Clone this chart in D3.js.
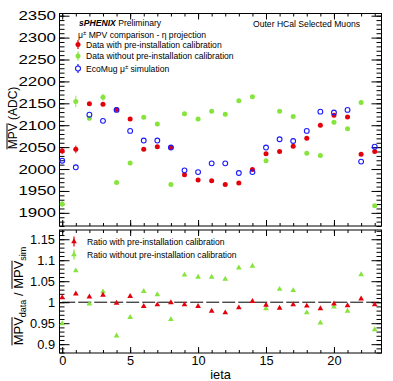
<!DOCTYPE html>
<html>
<head>
<meta charset="utf-8">
<script src="https://cdn.jsdelivr.net/npm/d3@7"></script>
<style>
  body { margin: 0; background: #fff; }
  svg { display: block; }
  text { font-family: "Liberation Sans", Arial, sans-serif; fill: #000; }
</style>
</head>
<body>
<div id="chart"></div>
<script>
// Data
const ieta = [0, 1, 2, 3, 4, 5, 6, 7, 8, 9, 10, 11, 12, 13, 14, 15, 16, 17, 18, 19, 20, 21, 22, 23];
const mpvCalib   = [2041, 2045, 2149, 2148, 2136, 2114, 2045, 2051, 2049, 1987, 1975, 1973, 1965, 1968, 1999, 2035, 2040, 2052, 2070, 2100, 2123, 2119, 2034, 2040];
const errCalib   = [7, 9, 4, 4, 3, 3, 3, 3, 3, 3, 3, 3, 3, 3, 3, 3, 3, 3, 3, 3, 3, 3, 3, 3];
const mpvNoCalib = [1920, 2154, 2116, 2164, 1969, 2014, 2118, 2103, 1965, 2126, 2114, 2132, 2125, 2156, 2165, 2019, 2132, 2120, 2036, 2031, 2107, 2092, 2152, 1916];
const errNoCalib = [7, 13, 5, 8, 4, 4, 4, 4, 4, 4, 4, 4, 4, 4, 4, 4, 4, 4, 4, 4, 4, 4, 4, 4];
const mpvSim     = [2019, 2004, 2124, 2110, 2135, 2087, 2065, 2065, 2049, 1997, 1993, 2013, 2013, 1991, 1993, 2049, 2068, 2064, 2087, 2131, 2129, 2135, 2017, 2051];
const ratioCalib   = [1.011, 1.020, 1.013, 1.017, 0.998, 1.014, 0.990, 0.994, 0.999, 0.994, 0.990, 0.979, 0.975, 0.987, 1.002, 0.993, 0.986, 0.994, 0.991, 0.985, 0.996, 0.992, 1.008, 0.994];
const ratioNoCalib = [0.949, 1.075, 0.996, 1.025, 0.920, 0.964, 1.026, 1.018, 0.959, 1.065, 1.060, 1.060, 1.055, 1.082, 1.086, 0.985, 1.031, 1.028, 0.975, 0.951, 0.989, 0.979, 1.066, 0.935];

// Tick labels
const xTicks = [0, 5, 10, 15, 20];
const yTicksTop = [1900, 1950, 2000, 2050, 2100, 2150, 2200, 2250, 2300, 2350];
const yTicksRatio = [0.9, 0.95, 1, 1.05, 1.1, 1.15];

const red = "#e3000b";
const green = "#86e43c";
const blue = "#1a1aff";

const W = 393, H = 381;
const left = 59.5, right = 381.5;
const top1 = 13.5, bot1 = 226;
const top2 = 230, bot2 = 353;

const svg = d3.select("#chart")
  .append("svg")
    .attr("width", W)
    .attr("height", H);

const x = d3.scaleLinear().domain([-0.2, 23.5]).range([left, right]);
const y1 = d3.scaleLinear().domain([1870, 2355]).range([bot1, top1]);
const y2 = d3.scaleLinear().domain([0.879, 1.172]).range([bot2, top2]);

const xMinor = d3.range(0, 24, 1);
const y1Minor = d3.range(1870, 2356, 10);
const y2Minor = d3.range(0.88, 1.171, 0.01);

// ROOT-style ticks on all four sides of a frame
function frameTicks(y, yMajor, yMinor, yTop, yBot) {
  const g = svg.append("g");
  const add = (axis, tx, ty) => {
    const a = g.append("g")
      .attr("transform", `translate(${tx},${ty})`)
      .call(axis);
    a.select(".domain").remove();
    a.selectAll("line").attr("stroke", "#000").attr("stroke-width", 1);
  };
  add(d3.axisLeft(y).tickValues(yMinor).tickSize(-5).tickFormat(""), left, 0);
  add(d3.axisLeft(y).tickValues(yMajor).tickSize(-10).tickFormat(""), left, 0);
  add(d3.axisRight(y).tickValues(yMinor).tickSize(-5).tickFormat(""), right, 0);
  add(d3.axisRight(y).tickValues(yMajor).tickSize(-10).tickFormat(""), right, 0);
  add(d3.axisBottom(x).tickValues(xMinor).tickSize(-3).tickFormat(""), 0, yBot);
  add(d3.axisBottom(x).tickValues(xTicks).tickSize(-6).tickFormat(""), 0, yBot);
  add(d3.axisTop(x).tickValues(xMinor).tickSize(-3).tickFormat(""), 0, yTop);
  add(d3.axisTop(x).tickValues(xTicks).tickSize(-6).tickFormat(""), 0, yTop);
  g.append("rect")
    .attr("x", left).attr("y", yTop)
    .attr("width", right - left).attr("height", yBot - yTop)
    .attr("fill", "none").attr("stroke", "#000").attr("stroke-width", 1);
}

frameTicks(y1, yTicksTop, y1Minor, top1, bot1);
frameTicks(y2, yTicksRatio, y2Minor, top2, bot2);

// Tick labels
const yLab1 = svg.append("g")
  .attr("transform", `translate(${left},0)`)
  .call(d3.axisLeft(y1).tickValues(yTicksTop).tickSize(0).tickPadding(2.6).tickFormat(d3.format("d")));
yLab1.select(".domain").remove();
yLab1.selectAll("text")
  .attr("font-size", 12.5)
  .attr("font-family", "Liberation Sans, Arial, sans-serif")
  .attr("transform", "scale(1.35,1)");

const yLab2 = svg.append("g")
  .attr("transform", `translate(${left},0)`)
  .call(d3.axisLeft(y2).tickValues(yTicksRatio).tickSize(0).tickPadding(4.5).tickFormat(d => d3.format("")(+d.toFixed(2))));
yLab2.select(".domain").remove();
yLab2.selectAll("text")
  .attr("font-size", 12.8)
  .attr("font-family", "Liberation Sans, Arial, sans-serif");

const xLab = svg.append("g")
  .attr("transform", `translate(0,${bot2})`)
  .call(d3.axisBottom(x).tickValues(xTicks).tickSize(0).tickPadding(2.5).tickFormat(d3.format("d")));
xLab.select(".domain").remove();
xLab.selectAll("text")
  .attr("font-size", 12.8)
  .attr("font-family", "Liberation Sans, Arial, sans-serif");

// Error bars + markers, top panel
function errBars(vals, errs, color) {
  svg.append("g").selectAll("line")
    .data(ieta)
    .join("line")
      .attr("x1", d => x(d)).attr("x2", d => x(d))
      .attr("y1", (d, i) => y1(vals[i] - errs[i]))
      .attr("y2", (d, i) => y1(vals[i] + errs[i]))
      .attr("stroke", color).attr("stroke-width", 1.2).attr("opacity", 0.75);
}
errBars(mpvNoCalib, errNoCalib, green);
errBars(mpvCalib, errCalib, red);

svg.append("g").selectAll("circle")
  .data(ieta)
  .join("circle")
    .attr("cx", d => x(d))
    .attr("cy", (d, i) => y1(mpvNoCalib[i]))
    .attr("r", 2.5)
    .attr("fill", green);

svg.append("g").selectAll("circle")
  .data(ieta)
  .join("circle")
    .attr("cx", d => x(d))
    .attr("cy", (d, i) => y1(mpvCalib[i]))
    .attr("r", 2.5)
    .attr("fill", red);

svg.append("g").selectAll("circle")
  .data(ieta)
  .join("circle")
    .attr("cx", d => x(d))
    .attr("cy", (d, i) => y1(mpvSim[i]))
    .attr("r", 2.4)
    .attr("fill", "none")
    .attr("stroke", blue)
    .attr("stroke-width", 1.1);

// Ratio panel
svg.append("line")
  .attr("x1", x(0)).attr("x2", right)
  .attr("y1", y2(1)).attr("y2", y2(1))
  .attr("stroke", "#000").attr("stroke-width", 1)
  .attr("stroke-dasharray", "13,3");

const tri = d3.symbol(d3.symbolTriangle, 14);
svg.append("g").selectAll("path")
  .data(ieta)
  .join("path")
    .attr("d", tri)
    .attr("transform", (d, i) => `translate(${x(d)},${y2(ratioNoCalib[i])})`)
    .attr("fill", green);

svg.append("g").selectAll("path")
  .data(ieta)
  .join("path")
    .attr("d", tri)
    .attr("transform", (d, i) => `translate(${x(d)},${y2(ratioCalib[i])})`)
    .attr("fill", red);

// Top legend
const fs = 8.6;
const t1 = svg.append("text").attr("x", 79).attr("y", 26).attr("font-size", fs);
t1.append("tspan").attr("font-weight", "bold").attr("font-style", "italic").text("sPHENIX");
t1.append("tspan").text(" Preliminary");

svg.append("text").attr("x", 360).attr("y", 27).attr("font-size", fs)
  .attr("text-anchor", "end").text("Outer HCal Selected Muons");

function muPM(sel) {
  sel.append("tspan").text("\u03bc");
  sel.append("tspan").attr("font-size", 6).attr("dy", -3).text("\u00b1");
}

const t2 = svg.append("text").attr("x", 78).attr("y", 37.5).attr("font-size", fs);
muPM(t2);
t2.append("tspan").attr("dy", 3).text(" MPV comparison - \u03b7 projection");

const legTop = [
  {pre: "Data with pre-installation calibration", color: red, open: false, y: 44.5},
  {pre: "Data without pre-installation calibration", color: green, open: false, y: 56},
  {pre: "EcoMug ", mu: true, post: " simulation", color: blue, open: true, y: 68.5}
];
legTop.forEach(d => {
  svg.append("line")
    .attr("x1", 78).attr("x2", 78)
    .attr("y1", d.y - 4.5).attr("y2", d.y + 4.5)
    .attr("stroke", d.color).attr("stroke-width", 1.2);
  svg.append("circle")
    .attr("cx", 78).attr("cy", d.y).attr("r", 2.5)
    .attr("fill", d.open ? "#fff" : d.color)
    .attr("stroke", d.open ? d.color : "none")
    .attr("stroke-width", 1.1);
  const t = svg.append("text").attr("x", 86).attr("y", d.y + 3).attr("font-size", fs);
  t.append("tspan").text(d.pre);
  if (d.mu) {
    muPM(t);
    t.append("tspan").attr("dy", 3).text(d.post);
  }
});

// Ratio legend
const legRatio = [
  {label: "Ratio with pre-installation calibration", color: red, y: 241.5},
  {label: "Ratio without pre-installation calibration", color: green, y: 254.5}
];
legRatio.forEach(d => {
  svg.append("line")
    .attr("x1", 74).attr("x2", 74)
    .attr("y1", d.y - 5).attr("y2", d.y + 5)
    .attr("stroke", d.color).attr("stroke-width", 1.2);
  svg.append("path")
    .attr("d", tri)
    .attr("transform", `translate(74,${d.y})`)
    .attr("fill", d.color);
  svg.append("text").attr("x", 87).attr("y", d.y + 3).attr("font-size", fs).text(d.label);
});

// Axis titles with overlines
function overline(textSel, from, to, dy) {
  const node = textSel.node();
  const a = node.getStartPositionOfChar(from).x;
  const b = node.getEndPositionOfChar(to).x;
  d3.select(node.parentNode).append("line")
    .attr("x1", a).attr("x2", b)
    .attr("y1", dy).attr("y2", dy)
    .attr("stroke", "#000").attr("stroke-width", 1);
}

const gT = svg.append("g").attr("transform", `translate(17,118)rotate(-90)`);
const tt = gT.append("text").attr("text-anchor", "middle").attr("font-size", 12).text("MPV (ADC)");
overline(tt, 0, 2, -10);

const gR = svg.append("g").attr("transform", `translate(23,296)rotate(-90)`);
const tr = gR.append("text").attr("text-anchor", "middle").attr("font-size", 13);
tr.append("tspan").text("MPV");
tr.append("tspan").attr("font-size", 9).attr("dy", 3).text("data");
tr.append("tspan").attr("dy", -3).text(" / MPV");
tr.append("tspan").attr("font-size", 9).attr("dy", 3).text("sim");
overline(tr, 0, 2, -11);
overline(tr, 10, 12, -11);

svg.append("text")
  .attr("x", (left + right) / 2).attr("y", 379)
  .attr("text-anchor", "middle").attr("font-size", 12.8)
  .text("ieta");
</script>
</body>
</html>
